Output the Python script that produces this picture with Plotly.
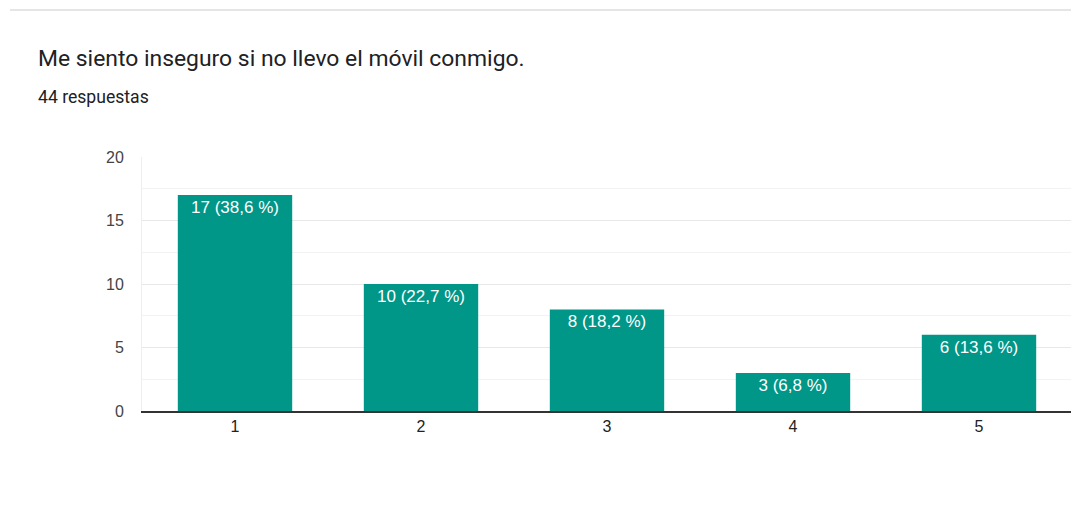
import plotly.graph_objects as go

categories = ["1", "2", "3", "4", "5"]
values = [17, 10, 8, 3, 6]
percents = ["38,6", "22,7", "18,2", "6,8", "13,6"]
title_text = "Me siento inseguro si no llevo el móvil conmigo."
subtitle_text = "44 respuestas"

labels = [f"{v} ({p} %)" for v, p in zip(values, percents)]

OFF = 8  # page body margin
W, H = 1079, 509
L, R, T, B = 142 - OFF, 15, 157 - OFF, 106
pw, ph = W - L - R, H - T - B

def px_x(x):
    return (x - OFF - L) / pw

def px_y(y):
    return (H - B - (y - OFF)) / ph

fig = go.Figure(go.Bar(
    x=categories, y=values, text=labels,
    textposition="inside", insidetextanchor="end",
    textfont=dict(color="white", size=17, family="Liberation Sans, Arial, sans-serif"),
    marker=dict(color="#009688", line=dict(width=0)),
    width=0.615, cliponaxis=False,
))

fig.update_layout(
    width=W, height=H,
    margin=dict(l=L, r=R, t=T, b=B),
    paper_bgcolor="white", plot_bgcolor="white",
    showlegend=False,
    uniformtext=dict(mode="show", minsize=17),
    font=dict(family="Liberation Sans, Arial, sans-serif", color="#444"),
    xaxis=dict(type="category", range=[-0.5, 4.5], showgrid=False,
               tickfont=dict(size=16, color="#222"), ticks="", ticklen=0,
               showline=True, linecolor="#333", linewidth=1.5),
    yaxis=dict(range=[0, 20], tickvals=[0, 5, 10, 15, 20], showgrid=True,
               gridcolor="#e8e8e8", gridwidth=1, zeroline=False,
               tickfont=dict(size=16, color="#444"), ticklabelstandoff=14,
               minor=dict(tickvals=[2.5, 7.5, 12.5, 17.5], showgrid=True,
                          gridcolor="#f3f3f3", gridwidth=1),
               showline=True, linecolor="#eeeeee", linewidth=1),
)

fig.add_shape(type="line", xref="paper", yref="paper",
              x0=px_x(10), x1=px_x(1090), y0=px_y(10), y1=px_y(10),
              line=dict(color="#dcdcdc", width=1.5))

fig.add_annotation(text=title_text, xref="paper", yref="paper",
                   x=px_x(36), y=px_y(58), xanchor="left", yanchor="middle",
                   showarrow=False,
                   font=dict(size=22.9, color="#202124", family="Roboto, Arial, sans-serif"))
fig.add_annotation(text=subtitle_text, xref="paper", yref="paper",
                   x=px_x(36), y=px_y(97), xanchor="left", yanchor="middle",
                   showarrow=False,
                   font=dict(size=17.6, color="#202124", family="Roboto, Arial, sans-serif"))

fig.write_html("out.html")
